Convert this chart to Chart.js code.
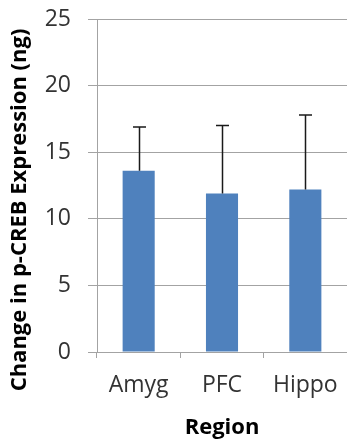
<!DOCTYPE html>
<html>
<head>
<meta charset="utf-8">
<script src="https://cdn.jsdelivr.net/npm/chart.js@4.4.0/dist/chart.umd.min.js"></script>
<style>
  html, body { margin: 0; padding: 0; background: #fff; }
  #wrap { width: 347px; height: 443px; }
</style>
</head>
<body>
<div id="wrap"><canvas id="bar-chart" width="347" height="443"></canvas></div>
<script>
// values
var regions = ['Amyg', 'PFC', 'Hippo'];
var pcreb = [13.6, 11.9, 12.2];
var pcrebErr = [3.3, 5.1, 5.6];   // upper error only
var yTicks = [0, 5, 10, 15, 20, 25];
var yTitle = 'Change in p-CREB Expression (ng)';

var gridGray = '#a3a3a3';

// upper-only error bars with a small cap, drawn through the y scale
var errorBars = {
  id: 'errorBars',
  afterDatasetsDraw: function (chart) {
    var ctx = chart.ctx;
    var yScale = chart.scales.y;
    var meta = chart.getDatasetMeta(0);
    ctx.save();
    ctx.strokeStyle = '#1a1a1a';
    ctx.lineWidth = 1.5;
    meta.data.forEach(function (bar, i) {
      var x = Math.round(bar.x) + 0.5;
      var yBase = yScale.getPixelForValue(pcreb[i]);
      var yTop = yScale.getPixelForValue(pcreb[i] + pcrebErr[i]);
      ctx.beginPath();
      ctx.moveTo(x, yBase);
      ctx.lineTo(x, yTop);
      ctx.moveTo(x - 6.5, yTop);
      ctx.lineTo(x + 6.5, yTop);
      ctx.stroke();
    });
    ctx.restore();
  }
};

// y title sits lower than the axis centre in the original, so draw it here
var yTitlePlugin = {
  id: 'yTitle',
  afterDraw: function (chart) {
    var ctx = chart.ctx;
    ctx.save();
    ctx.translate(20, 210);
    ctx.rotate(-Math.PI / 2);
    ctx.font = 'bold 22px "Open Sans"';
    ctx.fillStyle = '#000';
    ctx.textAlign = 'center';
    ctx.textBaseline = 'middle';
    ctx.fillText(yTitle, 0, 0);
    ctx.restore();
  }
};

new Chart(document.getElementById('bar-chart'), {
  type: 'bar',
  data: {
    labels: regions,
    datasets: [{
      data: pcreb,
      backgroundColor: '#4f81bd',
      borderWidth: 0,
      categoryPercentage: 1,
      barPercentage: 0.385
    }]
  },
  options: {
    responsive: false,
    animation: false,
    layout: { padding: { top: 19, right: 0, left: 0, bottom: 0 } },
    plugins: {
      legend: { display: false },
      tooltip: { enabled: false }
    },
    scales: {
      x: {
        grid: {
          display: true,
          drawOnChartArea: false,
          offset: true,
          tickLength: 6,
          color: gridGray
        },
        border: { display: true, color: gridGray },
        ticks: {
          color: '#333',
          padding: 14,
          font: { family: 'Open Sans', size: 23 }
        },
        title: {
          display: true,
          text: 'Region',
          color: '#000',
          padding: { top: 0, bottom: 2 },
          font: { family: 'Open Sans', size: 22, weight: 'bold' }
        },
        afterFit: function (scale) {
          scale.height = 91;
          scale.paddingLeft = 0;
          scale.paddingRight = 0;
        }
      },
      y: {
        min: 0,
        max: 25,
        afterBuildTicks: function (scale) {
          scale.ticks = yTicks.map(function (v) { return { value: v }; });
        },
        grid: {
          color: gridGray,
          tickLength: 9
        },
        border: { display: true, color: gridGray },
        ticks: {
          color: '#333',
          padding: 17,
          font: { family: 'Open Sans', size: 23 }
        },
        title: { display: false },
        afterFit: function (scale) {
          scale.width = 97;
          scale.paddingTop = 0;
          scale.paddingBottom = 0;
        }
      }
    }
  },
  plugins: [errorBars, yTitlePlugin]
});
</script>
</body>
</html>
